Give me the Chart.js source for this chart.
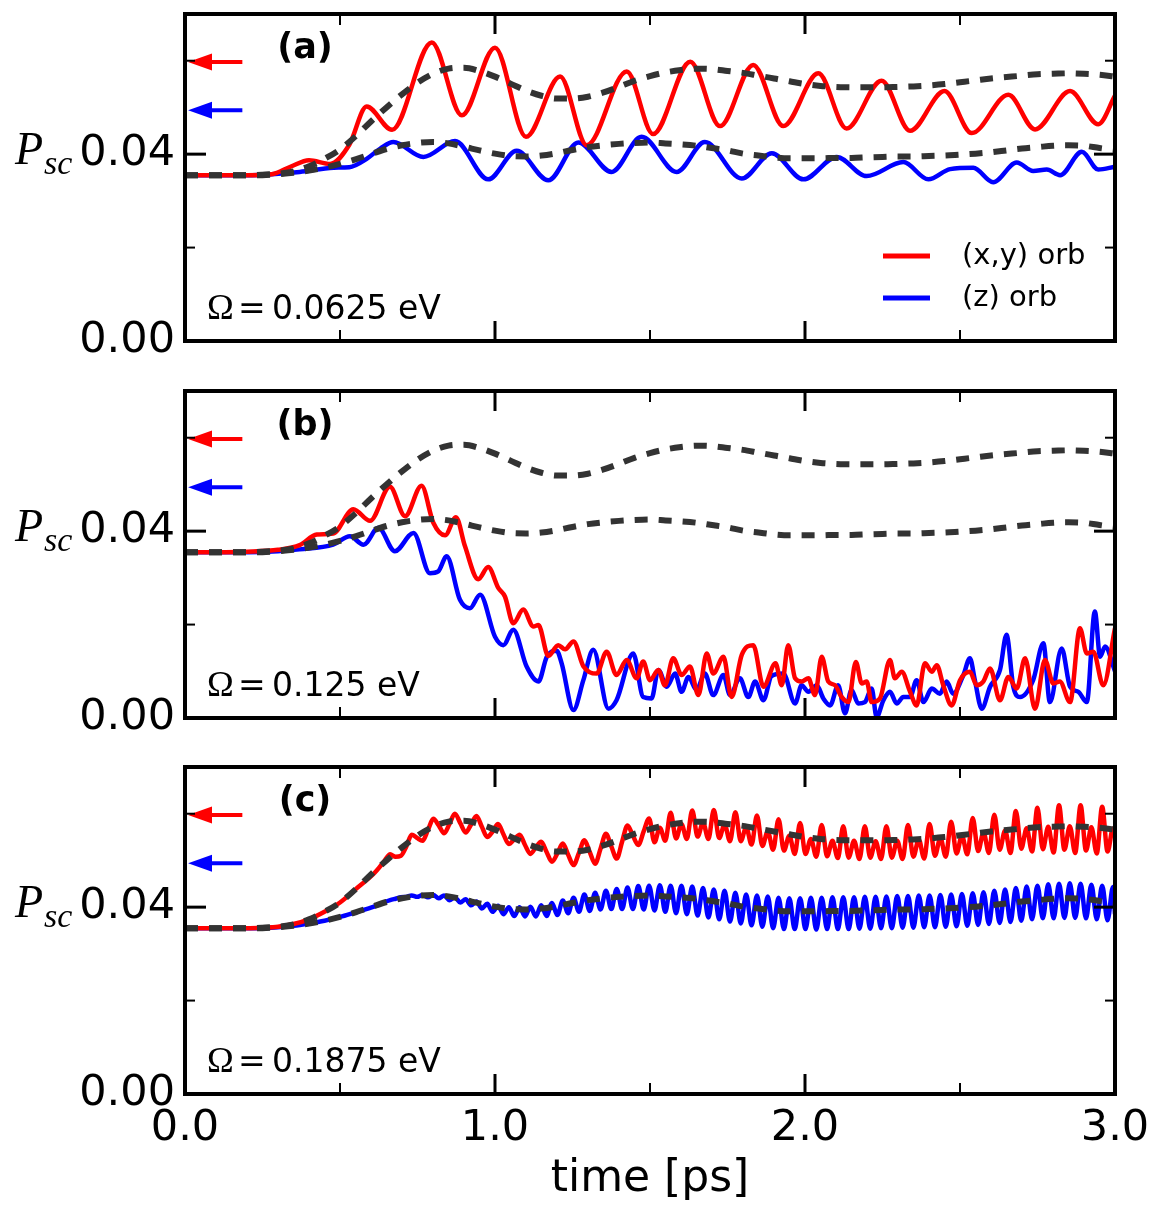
<!DOCTYPE html>
<html>
<head>
<meta charset="utf-8">
<script src="https://cdn.jsdelivr.net/npm/chart.js@4.4.1/dist/chart.umd.min.js"></script>
<style>
  html, body { margin: 0; padding: 0; background: #ffffff; }
  #wrap { position: relative; width: 1168px; height: 1218px; background: #ffffff; overflow: hidden; }
  canvas { position: absolute; left: 0; }
</style>
</head>
<body>
<div id="wrap">
  <canvas id="ca" width="1168" height="376" style="top:0px"></canvas>
  <canvas id="cb" width="1168" height="376" style="top:377px"></canvas>
  <canvas id="cc" width="1168" height="465" style="top:753px"></canvas>
</div>
<script>
// ---------------- axis ticks ----------------
const xMajorTicks = [0, 1, 2, 3];
const xMinorTicks = [0.5, 1.5, 2.5];
const yMajorTicks = [0.00, 0.04];
const yMinorTicks = [0.02, 0.06];
const yLabelAt = 0.04;

// ---------------- panel texts ----------------
const panelLetters = ['(a)', '(b)', '(c)'];
const omegaValues = ['0.0625', '0.125', '0.1875'];
const legendLabels = ['(x,y) orb', '(z) orb'];

// equilibrium arrows (red, blue)
const arrowLevels = [0.0597, 0.0494];

// ---------------- dashed reference curves (same in all panels) ----------------
const tDash = [0, 0.1, 0.2, 0.25, 0.3, 0.35, 0.4, 0.45, 0.5, 0.55,
  0.6, 0.65, 0.7, 0.75, 0.8, 0.85, 0.9, 0.95, 1.0, 1.05,
  1.1, 1.15, 1.2, 1.25, 1.3, 1.35, 1.4, 1.45, 1.5, 1.55,
  1.6, 1.65, 1.7, 1.75, 1.8, 1.85, 1.9, 1.95, 2.0, 2.05,
  2.1, 2.15, 2.2, 2.25, 2.3, 2.35, 2.4, 2.45, 2.5, 2.55,
  2.6, 2.65, 2.7, 2.75, 2.8, 2.85, 2.9, 2.95, 3.0];
const upperDash = [0.0355, 0.0355, 0.0355, 0.0356, 0.0358, 0.0363, 0.0374, 0.0390, 0.0410, 0.0438,
  0.0470, 0.0500, 0.0528, 0.0553, 0.0572, 0.0583, 0.0585, 0.0578, 0.0566, 0.0551,
  0.0536, 0.0525, 0.0519, 0.0519, 0.0523, 0.0532, 0.0544, 0.0557, 0.0567, 0.0575,
  0.0580, 0.0583, 0.0582, 0.0578, 0.0574, 0.0568, 0.0562, 0.0556, 0.0550, 0.0546,
  0.0544, 0.0543, 0.0543, 0.0543, 0.0544, 0.0545, 0.0547, 0.0550, 0.0554, 0.0558,
  0.0562, 0.0565, 0.0568, 0.0571, 0.0572, 0.0573, 0.0572, 0.0570, 0.0566];
const lowerDash = [0.0355, 0.0355, 0.0355, 0.0355, 0.0357, 0.0360, 0.0365, 0.0371, 0.0379, 0.0389,
  0.0400, 0.0411, 0.0419, 0.0424, 0.0426, 0.0423, 0.0416, 0.0408, 0.0401, 0.0396,
  0.0395, 0.0397, 0.0402, 0.0409, 0.0415, 0.0419, 0.0422, 0.0424, 0.0425, 0.0423,
  0.0421, 0.0418, 0.0413, 0.0408, 0.0401, 0.0397, 0.0393, 0.0391, 0.0391, 0.0391,
  0.0392, 0.0392, 0.0393, 0.0394, 0.0395, 0.0395, 0.0396, 0.0397, 0.0399, 0.0401,
  0.0404, 0.0408, 0.0412, 0.0415, 0.0418, 0.0419, 0.0418, 0.0413, 0.0409];

// ---------------- panel (a): Omega = 0.0625 eV, [time, P] ----------------
const redA = [[0,0.0355],[0.1,0.0355],[0.2,0.0355],[0.28,0.0357],[0.34,0.0373],[0.40,0.0387],
  [0.468,0.0379],[0.53,0.0420],[0.586,0.0502],[0.668,0.0452],[0.796,0.0639],[0.893,0.0483],
  [1.0,0.0628],[1.10,0.0437],[1.21,0.0566],[1.296,0.0419],[1.425,0.0577],[1.51,0.0443],
  [1.63,0.0598],[1.726,0.0460],[1.833,0.0591],[1.93,0.0460],[2.043,0.0573],[2.134,0.0455],
  [2.247,0.0557],[2.339,0.0450],[2.45,0.0535],[2.538,0.0445],[2.656,0.0527],[2.742,0.0453],
  [2.855,0.0535],[2.946,0.0464],[3.0,0.0525]];
const blueA = [[0,0.0355],[0.1,0.0355],[0.2,0.0355],[0.28,0.0357],[0.37,0.0362],[0.48,0.0371],
  [0.53,0.0372],[0.586,0.0390],[0.63,0.0412],[0.672,0.0426],[0.769,0.0394],[0.871,0.0428],
  [0.978,0.0346],[1.07,0.0407],[1.172,0.0344],[1.269,0.0425],[1.376,0.0362],[1.473,0.0437],
  [1.586,0.0362],[1.677,0.0426],[1.796,0.0348],[1.893,0.0402],[1.995,0.0346],[2.102,0.0394],
  [2.199,0.0353],[2.317,0.0383],[2.398,0.0346],[2.468,0.0368],[2.543,0.0371],[2.607,0.0340],
  [2.683,0.0382],[2.736,0.0364],[2.78,0.0367],[2.823,0.0355],[2.893,0.0405],[2.946,0.0367],
  [3.0,0.0373]];

// ---------------- panel (b): Omega = 0.125 eV ----------------
const redB = [[0,0.0355],[0.1,0.0355],[0.2,0.0356],[0.3,0.0360],[0.37,0.0370],[0.425,0.0393],
  [0.478,0.0395],[0.543,0.0447],[0.597,0.0422],[0.661,0.0495],[0.710,0.0432],[0.763,0.0497],
  [0.801,0.0418],[0.839,0.0391],[0.874,0.0430],[0.903,0.0368],[0.946,0.0297],[0.978,0.0323],
  [1.011,0.0278],[1.032,0.0260],[1.059,0.0203],[1.091,0.0232],[1.124,0.0196],[1.140,0.0199],
  [1.172,0.0133],[1.204,0.0156],[1.226,0.0147],[1.253,0.0164],[1.285,0.0111],[1.328,0.0095],
  [1.360,0.0142],[1.392,0.0092],[1.425,0.0124],[1.457,0.0085],[1.478,0.0121],[1.500,0.0081],
  [1.527,0.0103],[1.548,0.0070],[1.575,0.0128],[1.602,0.0092],[1.629,0.0110],[1.656,0.0049],
  [1.683,0.0138],[1.704,0.0095],[1.737,0.0131],[1.763,0.0045],[1.796,0.0135],[1.833,0.0156],
  [1.866,0.0067],[1.905,0.0117],[1.925,0.0070],[1.946,0.0156],[1.968,0.0085],[1.989,0.0078],
  [2.011,0.0085],[2.032,0.0049],[2.054,0.0131],[2.075,0.0078],[2.097,0.0070],[2.118,0.0045],
  [2.140,0.0034],[2.164,0.0120],[2.183,0.0074],[2.199,0.0078],[2.215,0.0034],[2.242,0.0042],
  [2.274,0.0124],[2.290,0.0085],[2.312,0.0099],[2.339,0.0056],[2.360,0.0027],[2.387,0.0117],
  [2.409,0.0099],[2.425,0.0113],[2.446,0.0070],[2.473,0.0027],[2.500,0.0081],[2.532,0.0099],
  [2.554,0.0070],[2.575,0.0078],[2.597,0.0106],[2.629,0.0038],[2.656,0.0088],[2.683,0.0063],
  [2.710,0.0128],[2.742,0.0020],[2.774,0.0124],[2.801,0.0074],[2.822,0.0078],[2.855,0.0034],
  [2.887,0.0192],[2.909,0.0138],[2.930,0.0142],[2.962,0.0070],[3.0,0.0192]];
const blueB = [[0,0.0355],[0.1,0.0355],[0.2,0.0355],[0.3,0.0357],[0.37,0.0361],[0.478,0.0371],
  [0.532,0.0389],[0.576,0.0371],[0.624,0.0407],[0.677,0.0357],[0.737,0.0396],[0.790,0.0310],
  [0.817,0.0314],[0.844,0.0346],[0.887,0.0253],[0.919,0.0235],[0.952,0.0264],[1.000,0.0174],
  [1.027,0.0156],[1.059,0.0189],[1.102,0.0110],[1.140,0.0078],[1.167,0.0131],[1.199,0.0144],
  [1.215,0.0117],[1.253,0.0017],[1.285,0.0081],[1.317,0.0146],[1.366,0.0020],[1.392,0.0038],
  [1.446,0.0138],[1.478,0.0045],[1.505,0.0042],[1.527,0.0103],[1.554,0.0067],[1.581,0.0095],
  [1.602,0.0056],[1.624,0.0088],[1.650,0.0060],[1.677,0.0095],[1.704,0.0049],[1.737,0.0092],
  [1.758,0.0049],[1.790,0.0085],[1.817,0.0045],[1.839,0.0078],[1.866,0.0038],[1.892,0.0090],
  [1.930,0.0095],[1.968,0.0031],[1.989,0.0070],[2.011,0.0056],[2.038,0.0070],[2.059,0.0042],
  [2.081,0.0027],[2.107,0.0070],[2.129,0.0010],[2.150,0.0060],[2.172,0.0031],[2.193,0.0034],
  [2.215,0.0063],[2.231,0.0002],[2.253,0.0038],[2.274,0.0056],[2.296,0.0031],[2.317,0.0045],
  [2.339,0.0045],[2.360,0.0081],[2.382,0.0034],[2.409,0.0063],[2.435,0.0052],[2.457,0.0078],
  [2.478,0.0052],[2.511,0.0092],[2.532,0.0128],[2.548,0.0081],[2.570,0.0020],[2.597,0.0067],
  [2.629,0.0103],[2.650,0.0178],[2.672,0.0067],[2.694,0.0045],[2.736,0.0081],[2.769,0.0160],
  [2.790,0.0034],[2.828,0.0149],[2.855,0.0067],[2.882,0.0056],[2.909,0.0034],[2.935,0.0228],
  [2.952,0.0131],[2.968,0.0153],[3.0,0.0100]];

// ---------------- panel (c): Omega = 0.1875 eV, shared time samples ----------------
const tC = [0, 0.1, 0.2, 0.25, 0.3, 0.35, 0.4, 0.45, 0.5, 0.55,
  0.6096, 0.6270, 0.6444, 0.6618, 0.6792, 0.6966, 0.7140, 0.7314, 0.7488, 0.7662, 0.7836,
  0.8010, 0.8184, 0.8358, 0.8532, 0.8706, 0.8880, 0.9054, 0.9228,
  0.9402, 0.9576, 0.9750, 0.9924, 1.0098, 1.0272, 1.0446, 1.0620,
  1.0794, 1.0968, 1.1142, 1.1316, 1.1490, 1.1664, 1.1838, 1.2012,
  1.2186, 1.2360, 1.2534, 1.2708, 1.2882, 1.3056, 1.3230, 1.3404,
  1.3578, 1.3752, 1.3926, 1.4100, 1.4274, 1.4448, 1.4622, 1.4796,
  1.4970, 1.5144, 1.5318, 1.5492, 1.5666, 1.5840, 1.6014, 1.6188,
  1.6362, 1.6536, 1.6710, 1.6884, 1.7058, 1.7232, 1.7406, 1.7580,
  1.7754, 1.7928, 1.8102, 1.8276, 1.8450, 1.8624, 1.8798, 1.8972,
  1.9146, 1.9320, 1.9494, 1.9668, 1.9842, 2.0016, 2.0190, 2.0364,
  2.0538, 2.0712, 2.0886, 2.1060, 2.1234, 2.1408, 2.1582, 2.1756,
  2.1930, 2.2104, 2.2278, 2.2452, 2.2626, 2.2800, 2.2974, 2.3148,
  2.3322, 2.3496, 2.3670, 2.3844, 2.4018, 2.4192, 2.4366, 2.4540,
  2.4714, 2.4888, 2.5062, 2.5236, 2.5410, 2.5584, 2.5758, 2.5932,
  2.6106, 2.6280, 2.6454, 2.6628, 2.6802, 2.6976, 2.7150, 2.7324,
  2.7498, 2.7672, 2.7846, 2.8020, 2.8194, 2.8368, 2.8542, 2.8716,
  2.8890, 2.9064, 2.9238, 2.9412, 2.9586, 2.9760, 2.9934, 3.0];
const redC = [0.0355, 0.0355, 0.0355, 0.0356, 0.0358, 0.0364, 0.0374, 0.0390, 0.0410, 0.0438,
  0.0472, 0.0485, 0.0500, 0.0513, 0.0508, 0.0510, 0.0530, 0.0555, 0.0548, 0.0542, 0.0565,
  0.0589, 0.0575, 0.0558, 0.0578, 0.0600, 0.0580, 0.0560, 0.0577,
  0.0595, 0.0572, 0.0550, 0.0562, 0.0578, 0.0556, 0.0535, 0.0545,
  0.0555, 0.0533, 0.0514, 0.0528, 0.0540, 0.0518, 0.0497, 0.0515,
  0.0536, 0.0512, 0.0490, 0.0516, 0.0543, 0.0518, 0.0493, 0.0525,
  0.0557, 0.0530, 0.0504, 0.0540, 0.0575, 0.0553, 0.0533, 0.0562,
  0.0590, 0.0539, 0.0570, 0.0542, 0.0602, 0.0547, 0.0578, 0.0546,
  0.0607, 0.0551, 0.0581, 0.0546, 0.0608, 0.0548, 0.0577, 0.0541,
  0.0603, 0.0541, 0.0571, 0.0534, 0.0596, 0.0531, 0.0562, 0.0523,
  0.0588, 0.0521, 0.0553, 0.0514, 0.0580, 0.0514, 0.0546, 0.0508,
  0.0576, 0.0509, 0.0542, 0.0505, 0.0573, 0.0506, 0.0542, 0.0503,
  0.0573, 0.0506, 0.0541, 0.0503, 0.0573, 0.0506, 0.0542, 0.0503,
  0.0576, 0.0508, 0.0545, 0.0504, 0.0578, 0.0510, 0.0548, 0.0508,
  0.0583, 0.0515, 0.0553, 0.0513, 0.0591, 0.0520, 0.0560, 0.0516,
  0.0598, 0.0523, 0.0564, 0.0516, 0.0606, 0.0525, 0.0569, 0.0519,
  0.0613, 0.0524, 0.0572, 0.0517, 0.0618, 0.0523, 0.0573, 0.0516,
  0.0618, 0.0521, 0.0571, 0.0515, 0.0615, 0.0519, 0.0568, 0.0560];
const blueC = [0.0355, 0.0355, 0.0355, 0.0355, 0.0357, 0.0360, 0.0365, 0.0371, 0.0379, 0.0389,
  0.0401, 0.0406, 0.0411, 0.0415, 0.0418, 0.0421, 0.0422, 0.0425, 0.0422, 0.0426, 0.0421,
  0.0426, 0.0419, 0.0425, 0.0415, 0.0421, 0.0410, 0.0417, 0.0404,
  0.0412, 0.0397, 0.0407, 0.0390, 0.0403, 0.0385, 0.0400, 0.0381,
  0.0400, 0.0380, 0.0401, 0.0380, 0.0404, 0.0381, 0.0409, 0.0383,
  0.0414, 0.0387, 0.0420, 0.0390, 0.0427, 0.0392, 0.0431, 0.0395,
  0.0435, 0.0396, 0.0439, 0.0396, 0.0442, 0.0396, 0.0445, 0.0395,
  0.0446, 0.0393, 0.0447, 0.0390, 0.0446, 0.0387, 0.0446, 0.0385,
  0.0444, 0.0382, 0.0441, 0.0378, 0.0438, 0.0374, 0.0435, 0.0369,
  0.0431, 0.0365, 0.0427, 0.0361, 0.0425, 0.0358, 0.0423, 0.0355,
  0.0420, 0.0353, 0.0419, 0.0353, 0.0419, 0.0353, 0.0420, 0.0352,
  0.0420, 0.0353, 0.0421, 0.0353, 0.0421, 0.0353, 0.0421, 0.0354,
  0.0422, 0.0354, 0.0422, 0.0355, 0.0423, 0.0355, 0.0424, 0.0356,
  0.0424, 0.0356, 0.0425, 0.0357, 0.0425, 0.0357, 0.0426, 0.0358,
  0.0427, 0.0359, 0.0428, 0.0360, 0.0430, 0.0362, 0.0432, 0.0364,
  0.0435, 0.0366, 0.0438, 0.0368, 0.0441, 0.0371, 0.0444, 0.0374,
  0.0446, 0.0376, 0.0449, 0.0376, 0.0450, 0.0377, 0.0451, 0.0377,
  0.0450, 0.0376, 0.0448, 0.0374, 0.0446, 0.0372, 0.0443, 0.0385];

// ---------------- helpers ----------------
const zipXY = (ts, vs) => ts.map((t, i) => ({ x: t, y: vs[i] }));
const fromPairs = (ps) => ps.map(p => ({ x: p[0], y: p[1] }));

const RED = '#ff0000', BLUE = '#0000ff', DASH = '#333333';
const FONT = 'DejaVu Sans';

function seriesSets(red, blue) {
  return [
    { label: 'upper', data: zipXY(tDash, upperDash), borderColor: DASH, borderWidth: 6, borderDash: [13, 11] },
    { label: 'lower', data: zipXY(tDash, lowerDash), borderColor: DASH, borderWidth: 6, borderDash: [13, 11] },
    { label: legendLabels[0], data: red, borderColor: RED, borderWidth: 4.5 },
    { label: legendLabels[1], data: blue, borderColor: BLUE, borderWidth: 4.5 }
  ];
}

const panelPlugin = {
  id: 'panel',
  afterDatasetsDraw(chart, args, o) {
    const { ctx, chartArea: ca } = chart;
    const xs = chart.scales.x, ys = chart.scales.y;
    ctx.save();
    // arrows showing the equilibrium values
    const arrowColors = [RED, BLUE];
    arrowLevels.forEach((v, i) => {
      const yy = ys.getPixelForValue(v);
      const xTip = xs.getPixelForValue(0.01), xBase = xs.getPixelForValue(0.087), xTail = xs.getPixelForValue(0.185);
      ctx.strokeStyle = arrowColors[i]; ctx.fillStyle = arrowColors[i];
      ctx.lineWidth = 4; ctx.lineCap = 'butt';
      ctx.beginPath(); ctx.moveTo(xBase - 2, yy); ctx.lineTo(xTail, yy); ctx.stroke();
      ctx.beginPath(); ctx.moveTo(xTip, yy); ctx.lineTo(xBase, yy - 8.5); ctx.lineTo(xBase, yy + 8.5); ctx.closePath(); ctx.fill();
    });
    // frame
    ctx.strokeStyle = '#000'; ctx.lineWidth = 4; ctx.lineCap = 'butt';
    ctx.strokeRect(ca.left, ca.top, ca.right - ca.left, ca.bottom - ca.top);
    // inward ticks on all four sides
    const tick = (x1, y1, x2, y2, w) => { ctx.lineWidth = w; ctx.beginPath(); ctx.moveTo(x1, y1); ctx.lineTo(x2, y2); ctx.stroke(); };
    xMajorTicks.forEach(v => { const px = xs.getPixelForValue(v); tick(px, ca.top, px, ca.top + 20, 3); tick(px, ca.bottom, px, ca.bottom - 20, 3); });
    xMinorTicks.forEach(v => { const px = xs.getPixelForValue(v); tick(px, ca.top, px, ca.top + 11, 2); tick(px, ca.bottom, px, ca.bottom - 11, 2); });
    yMajorTicks.forEach(v => { const py = ys.getPixelForValue(v); tick(ca.left, py, ca.left + 21, py, 3); tick(ca.right, py, ca.right - 21, py, 3); });
    yMinorTicks.forEach(v => { const py = ys.getPixelForValue(v); tick(ca.left, py, ca.left + 10, py, 2); tick(ca.right, py, ca.right - 10, py, 2); });
    // panel letter
    ctx.fillStyle = '#000';
    ctx.textAlign = 'center'; ctx.textBaseline = 'middle';
    ctx.font = 'bold 35px "' + FONT + '"';
    ctx.fillText(o.letter, 305, ca.top + 35);
    // Omega label
    ctx.textAlign = 'left'; ctx.textBaseline = 'alphabetic';
    const by = ca.bottom - 22.5;
    ctx.font = '36px "Liberation Serif"';
    ctx.fillText('Ω', 207, by);
    ctx.font = '33px "' + FONT + '"';
    ctx.fillText('=', 238, by);
    ctx.fillText(o.omega + ' eV', 272, by);
    // P_sc label
    const ly = ys.getPixelForValue(yLabelAt);
    ctx.font = 'italic 46px "Liberation Serif"';
    ctx.fillText('P', 15, ly + 10);
    ctx.font = 'italic 34px "Liberation Serif"';
    ctx.fillText('sc', 44, ly + 20);
    // legend
    if (o.legend) {
      const rows = [[RED, ca.top + 242], [BLUE, ca.top + 284]];
      rows.forEach((r, i) => {
        ctx.strokeStyle = r[0]; ctx.lineWidth = 5;
        ctx.beginPath(); ctx.moveTo(883, r[1]); ctx.lineTo(930, r[1]); ctx.stroke();
        ctx.fillStyle = '#000'; ctx.textBaseline = 'middle';
        ctx.font = '29px "' + FONT + '"';
        ctx.fillText(legendLabels[i], 962, r[1]);
      });
    }
    ctx.restore();
  }
};

function makePanel(id, red, blue, idx, showX) {
  const cfg = {
    type: 'line',
    data: { datasets: seriesSets(red, blue) },
    options: {
      responsive: false, animation: false, devicePixelRatio: 1,
      layout: { padding: { top: 14, right: 53, bottom: showX ? 0 : 35, left: 0 } },
      elements: {
        point: { radius: 0, hoverRadius: 0 },
        line: { cubicInterpolationMode: 'monotone', borderCapStyle: 'butt', borderJoinStyle: 'round', fill: false }
      },
      plugins: {
        legend: { display: false }, tooltip: { enabled: false },
        panel: { letter: panelLetters[idx], omega: omegaValues[idx], legend: idx === 0 }
      },
      scales: {
        x: {
          type: 'linear', min: 0, max: 3, display: showX,
          grid: { display: false, drawTicks: false }, border: { display: false },
          afterBuildTicks: s => { s.ticks = xMajorTicks.map(v => ({ value: v })); },
          afterFit: s => { s.height = showX ? 124 : 0; s.paddingLeft = 0; s.paddingRight = 0; s.paddingTop = 0; s.paddingBottom = 0; },
          ticks: { font: { family: FONT, size: 43 }, color: '#000', padding: 9, autoSkip: false, maxRotation: 0,
                   callback: v => Number(v).toFixed(1) },
          title: { display: true, text: 'time [ps]', color: '#000', font: { family: FONT, size: 44 }, padding: { top: 0, bottom: 12 } }
        },
        y: {
          type: 'linear', min: 0, max: 0.07,
          grid: { display: false, drawTicks: false }, border: { display: false },
          afterBuildTicks: s => { s.ticks = yMajorTicks.map(v => ({ value: v })); },
          afterFit: s => { s.width = 185; s.paddingTop = 0; s.paddingBottom = 0; s.paddingLeft = 0; s.paddingRight = 0; },
          ticks: { font: { family: FONT, size: 43 }, color: '#000', padding: 10,
                   callback: v => Number(v).toFixed(2) }
        }
      }
    },
    plugins: [panelPlugin]
  };
  return new Chart(document.getElementById(id), cfg);
}

makePanel('ca', fromPairs(redA), fromPairs(blueA), 0, false);
makePanel('cb', fromPairs(redB), fromPairs(blueB), 1, false);
makePanel('cc', zipXY(tC, redC), zipXY(tC, blueC), 2, true);
</script>
</body>
</html>
